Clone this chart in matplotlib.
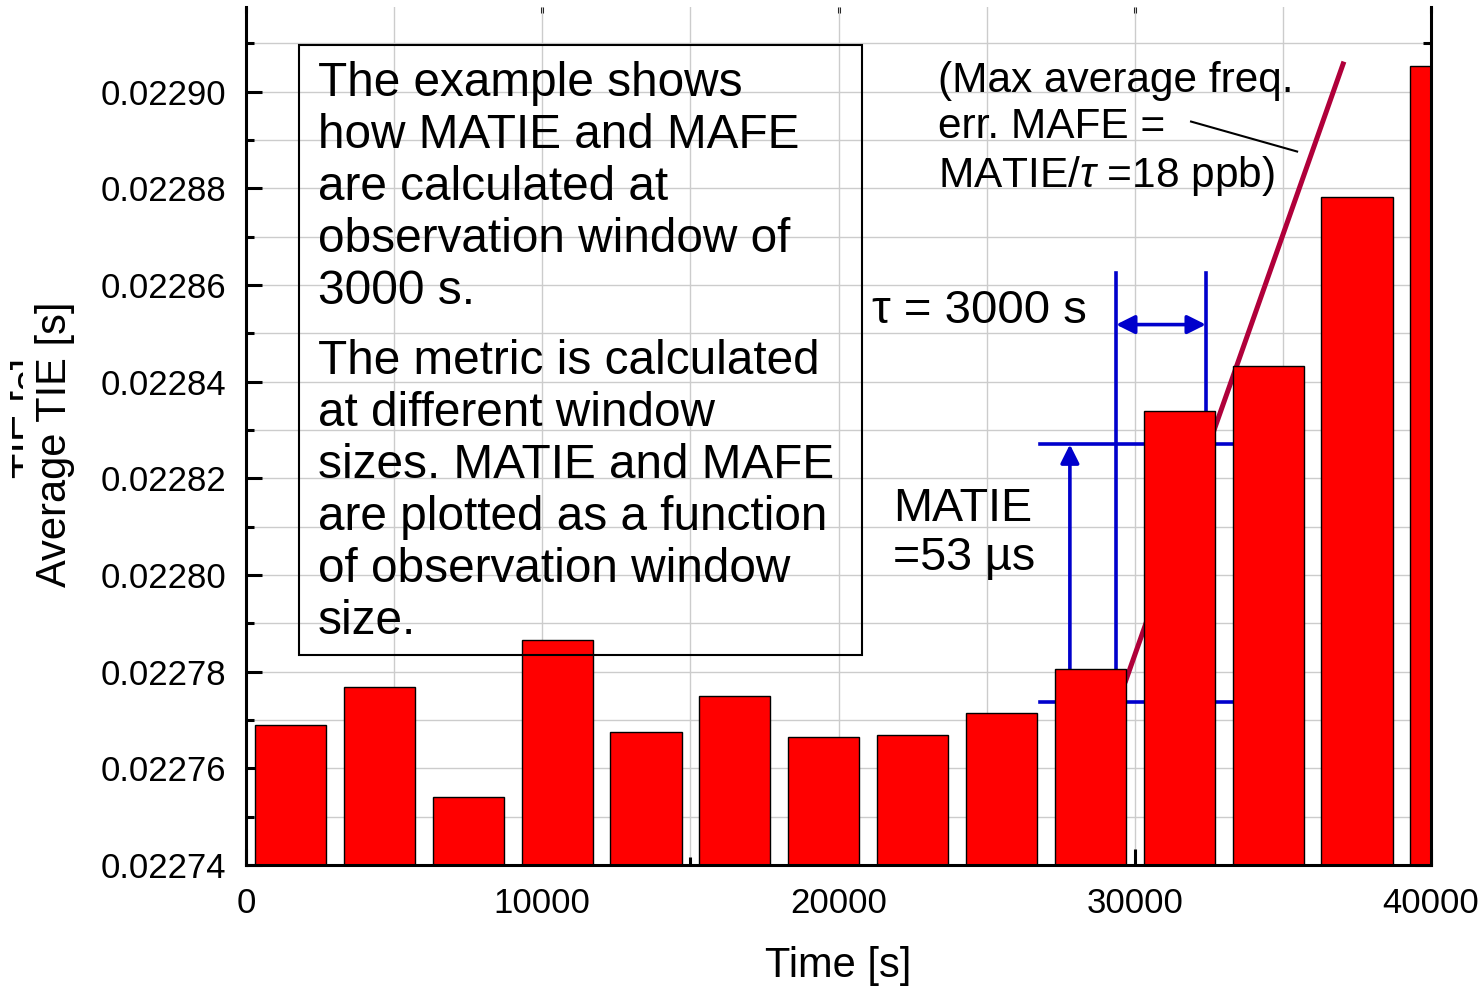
import matplotlib
matplotlib.use("Agg")
import matplotlib.pyplot as plt
from matplotlib.patches import Rectangle
from matplotlib.ticker import MultipleLocator, FormatStrFormatter

plt.rcParams["font.family"] = ["Liberation Sans", "DejaVu Sans"]
plt.rcParams["mathtext.fontset"] = "custom"
plt.rcParams["mathtext.rm"] = "Liberation Sans"
plt.rcParams["mathtext.it"] = "Liberation Sans:italic"

# average TIE per 3000 s window
window_centres = [1500, 4500, 7500, 10500, 13500, 16500, 19500,
                  22500, 25500, 28500, 31500, 34500, 37500, 40500]
average_tie = [0.0227689, 0.0227769, 0.0227541, 0.0227866, 0.0227675,
               0.0227750, 0.0227665, 0.0227669, 0.0227715, 0.0227806,
               0.0228340, 0.0228433, 0.0228781, 0.0229053]
bar_width = 2400

# annotation geometry (data units)
tau_start, tau_end = 29370, 32400
tie_low, tie_high = 0.0227738, 0.0228270
slope_t = [29670, 37060]
slope_tie = [0.0227777, 0.0229062]

blue = "#0000cc"

fig = plt.figure(figsize=(14.82, 9.86), dpi=100)
ax = fig.add_axes([0.166, 0.1227, 0.7996, 0.8702])
ax.set_axisbelow(True)

ax.bar(window_centres, average_tie, width=bar_width, color="#ff0000",
       edgecolor="black", linewidth=1.0, zorder=2)

ax.set_xlim(0, 40000)
ax.set_ylim(0.02274, 0.0229175)
ax.xaxis.set_major_locator(MultipleLocator(10000))
ax.xaxis.set_minor_locator(MultipleLocator(5000))
ax.yaxis.set_major_locator(MultipleLocator(0.00002))
ax.yaxis.set_minor_locator(MultipleLocator(0.00001))
ax.yaxis.set_major_formatter(FormatStrFormatter("%.5f"))
ax.grid(True, which="both", color="#cccccc", linewidth=1.0)

for s in ["left", "right", "bottom"]:
    ax.spines[s].set_linewidth(2.2)
ax.spines["top"].set_visible(False)
ax.tick_params(which="both", direction="in", width=2.2, right=True,
               labelsize=25)
ax.tick_params(which="major", length=11.5)
ax.tick_params(which="minor", length=5.8)
ax.tick_params(axis="y", pad=14)
ax.tick_params(axis="x", pad=16)

top = ax.secondary_xaxis("top")
top.set_xticks([0, 10000, 20000, 30000, 40000])
top.tick_params(direction="in", length=4.3, width=2.2, labeltop=False)
for s in top.spines.values():
    s.set_visible(False)

ax.set_xlabel("Time [s]", fontsize=30)
ax.xaxis.set_label_coords(0.5, -0.094)
ax.set_ylabel("Average TIE [s]", fontsize=30,
              bbox=dict(boxstyle="square,pad=0.3", fc="white", ec="none"))
ax.yaxis.set_label_coords(-0.144, 0.49)
fig.text(0.0283, 0.576, "TIE [s]", fontsize=30, rotation=90,
         ha="center", va="baseline", rotation_mode="anchor", zorder=-1)

# blue construction lines behind the bars
ax.plot([tau_start, tau_start], [tie_low, 0.0228625], color=blue, lw=2.6, zorder=1)
ax.plot([tau_end, tau_end], [tie_low, 0.0228625], color=blue, lw=2.6, zorder=1)
ax.plot([26800, 33280], [tie_high, tie_high], color=blue, lw=2.6, zorder=1)
ax.plot([26800, 33280], [tie_low, tie_low], color=blue, lw=2.6, zorder=1)
ax.annotate("", xy=(27810, tie_high), xytext=(27810, tie_low),
            arrowprops=dict(arrowstyle="-|>", color=blue, lw=2.6,
                            mutation_scale=28, shrinkA=0, shrinkB=0),
            zorder=1)
ax.annotate("", xy=(tau_start, 0.0228518), xytext=(tau_end, 0.0228518),
            arrowprops=dict(arrowstyle="<|-|>", color=blue, lw=2.6,
                            mutation_scale=28, shrinkA=0, shrinkB=0),
            zorder=1)

ax.plot(slope_t, slope_tie, color="#b0003a", lw=3.6, zorder=1.5,
        solid_capstyle="butt")
ax.plot([31900, 35480], [0.0228938, 0.0228876], color="black", lw=1.5, zorder=3)

# explanation box
ax.add_patch(Rectangle((1790, 0.0227835), 19000, 0.0001262, fill=False,
                       edgecolor="black", linewidth=1.5, zorder=3))
ax.text(0.0608, 0.9370,
        "The example shows\nhow MATIE and MAFE\nare calculated at\n"
        "observation window of\n3000 s.",
        transform=ax.transAxes, fontsize=34.4, va="top", ha="left",
        linespacing=1.2)
ax.text(0.0608, 0.6130,
        "The metric is calculated\nat different window\nsizes. MATIE and MAFE\n"
        "are plotted as a function\nof observation window\nsize.",
        transform=ax.transAxes, fontsize=34.4, va="top", ha="left",
        linespacing=1.2)
ax.text(0.584, 0.9370,
        "(Max average freq.\nerr. MAFE =\nMATIE/$\\tau$ =18 ppb)",
        transform=ax.transAxes, fontsize=30.5, va="top", ha="left",
        linespacing=1.2)
ax.text(0.528, 0.6317, "\u03c4 = 3000 s", transform=ax.transAxes,
        fontsize=34, va="baseline", ha="left")
ax.text(0.5460, 0.4406, "MATIE\n=53 \u00b5s", transform=ax.transAxes,
        fontsize=33.6, va="top", ha="left", linespacing=1.15)

fig.savefig("out.png", dpi=100)
